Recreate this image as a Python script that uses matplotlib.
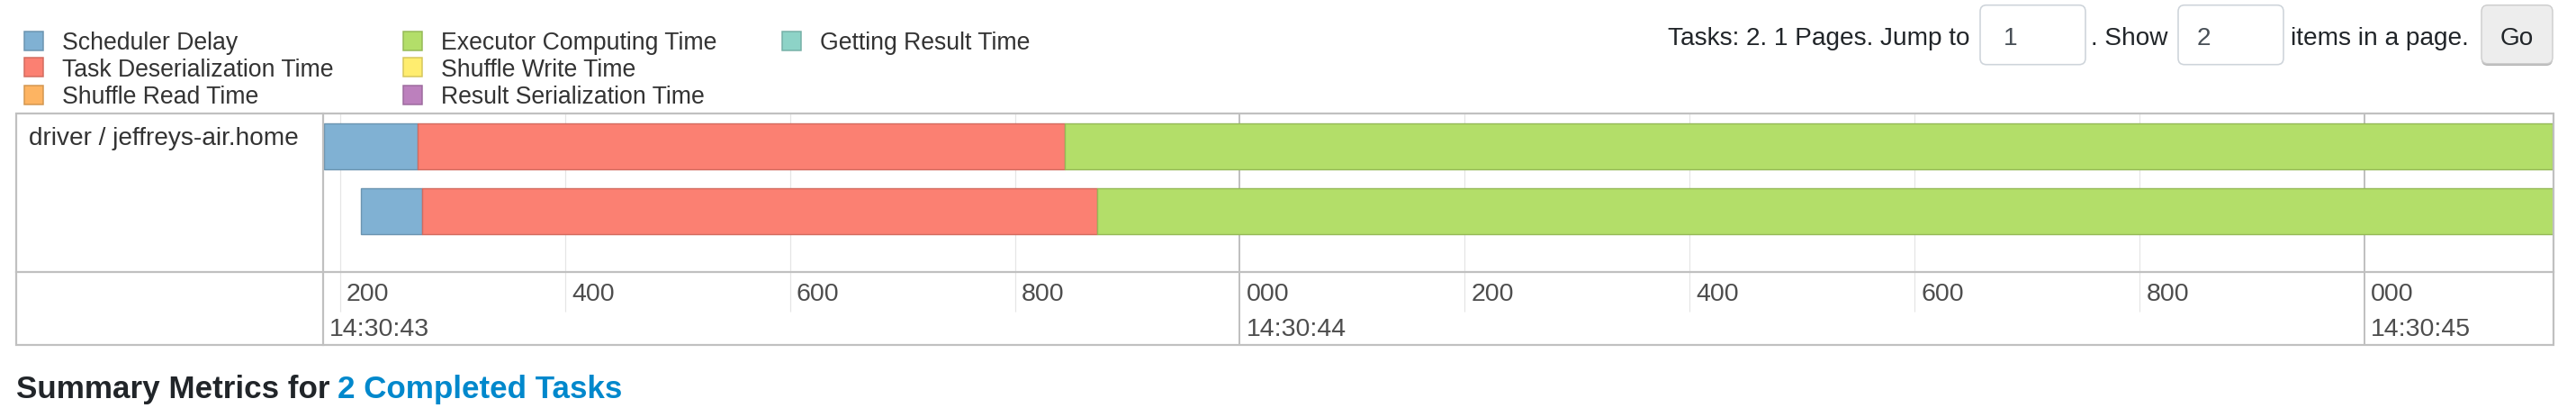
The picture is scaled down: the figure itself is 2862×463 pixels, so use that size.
import matplotlib
matplotlib.use('Agg')
import matplotlib.pyplot as plt
from matplotlib.patches import Rectangle, FancyBboxPatch

plt.rcParams['font.family'] = ['Liberation Sans', 'DejaVu Sans']

W, H = 2862, 464  # mida de la imatge en pixels

# Dades: temps en ms despres de 14:30:43.000
task_rows = [0, 1]
launch_ms = [186, 219]
scheduler_delay = [83, 54]
deserialization = [575, 600]
shuffle_read = [0, 0]
executor_computing = [1323, 1295]
shuffle_write = [0, 0]
result_serialization = [0, 0]
getting_result = [0, 0]

window_ms = [185, 2168]
grid_ms = [200, 400, 600, 800, 1000, 1200, 1400, 1600, 1800, 2000]
major_ms = [1000, 2000]
date_labels = ['14:30:43', '14:30:44', '14:30:45']
date_pos_ms = [185, 1000, 2000]
executor_label = 'driver / jeffreys-air.home'

legend_names = ['Scheduler Delay', 'Task Deserialization Time', 'Shuffle Read Time',
                'Executor Computing Time', 'Shuffle Write Time', 'Result Serialization Time',
                'Getting Result Time']
legend_fill = ['#80B1D3', '#FB8072', '#FDB462', '#B3DE69', '#FFED6F', '#BC80BD', '#8DD3C7']
legend_edge = ['#6B94B0', '#D26B5F', '#D3964F', '#95B957', '#D5C65C', '#9D6B9E', '#75B0A6']

BORDER = '#c0c0c0'
PX = 0.72  # 1 pixel en punts (dpi 100)
HTML_FS = 20.2  # mida del text de la pagina
LEG_FS = 19.2  # mida del text de la llegenda
AXIS_FS = 20.5  # mida de les etiquetes de temps


def frac(x0, y0, x1, y1):  # Rectangle en pixels -> fraccio de figura
    return [x0 / W, 1 - y1 / H, (x1 - x0) / W, (y1 - y0) / H]


fig = plt.figure(figsize=(W / 100, H / 100), dpi=100)
fig.patch.set_facecolor('white')

# Eix principal amb les barres de les tasques
ax = fig.add_axes(frac(359, 127.3, 2837, 302.7))
ax.set_xlim(window_ms)
ax.set_ylim(1.93, -0.51)
ax.axis('off')
ax.vlines([t for t in grid_ms if t not in major_ms], -1, 3, color='#e5e5e5', lw=1.2 * PX, zorder=0)
ax.vlines(major_ms, -1, 3, color=BORDER, lw=2 * PX, zorder=0)

phases = [scheduler_delay, deserialization, shuffle_read, executor_computing,
          shuffle_write, result_serialization, getting_result]
left = list(launch_ms)
for k, phase in enumerate(phases):
    for r in range(len(task_rows)):
        if phase[r] > 0:  # Nomes es dibuixen les fases amb durada
            ax.barh(task_rows[r], phase[r], left=left[r], height=0.71,
                    color=legend_fill[k], edgecolor=legend_edge[k], linewidth=1.4 * PX, zorder=2)
        left[r] += phase[r]

# Eix inferior amb les etiquetes de temps
ax2 = fig.add_axes(frac(359, 302.7, 2837, 384), sharex=ax)
ax2.set_ylim(1, 0)
ax2.axis('off')
ax2.vlines([t for t in grid_ms if t not in major_ms], 0, 0.545, color='#e5e5e5', lw=1.2 * PX)
ax2.vlines(major_ms, 0, 1, color=BORDER, lw=2 * PX)
for t in grid_ms:
    ax2.annotate('%03d' % (t % 1000), (t, 0.385), xytext=(5.2, 0), textcoords='offset points',
                 fontsize=AXIS_FS, color='#4d4d4d', va='baseline', ha='left')
for t, lab in zip(date_pos_ms, date_labels):
    ax2.annotate(lab, (t, 0.865), xytext=(5.2, 0), textcoords='offset points',
                 fontsize=AXIS_FS, color='#4d4d4d', va='baseline', ha='left')

# Capa de fons en pixels: taula, llegenda i controls
bg = fig.add_axes([0, 0, 1, 1], zorder=5)
bg.set_xlim(0, W)
bg.set_ylim(H, 0)
bg.axis('off')
bg.patch.set_alpha(0)

bg.add_patch(Rectangle((18, 127.3), 2837 - 18, 384 - 127.3, fill=False, ec=BORDER, lw=2.2 * PX))
bg.plot([359, 359], [127.3, 384], color=BORDER, lw=2.2 * PX)
bg.plot([18, 2837], [302.7, 302.7], color=BORDER, lw=2.2 * PX)
bg.text(31.7, 160.7, executor_label, fontsize=HTML_FS, color='#333333', va='baseline')

# Llegenda (3 files per columna)
col_x = [27, 448, 869]
row_bottom = [56.7, 86.3, 116.7]
for i, name in enumerate(legend_names):
    x = col_x[i // 3]
    yb = row_bottom[i % 3]
    bg.add_patch(Rectangle((x, yb - 21), 21, 21, fc=legend_fill[i], ec=legend_edge[i], lw=1.5 * PX))
    bg.text(x + 42, yb - 1.5, name, fontsize=LEG_FS, color='#333333', va='baseline')

# Controls de paginacio
base = 49.5
bg.text(1852.7, base, 'Tasks: 2. 1 Pages. Jump to', fontsize=HTML_FS, color='#212529', va='baseline')
bg.add_patch(FancyBboxPatch((2200, 6.7), 117, 66, boxstyle='round,pad=0,rounding_size=7',
                            fc='white', ec='#ced4da', lw=1.6 * PX))
bg.text(2226, base, '1', fontsize=HTML_FS, color='#495057', va='baseline')
bg.text(2323, base, '. Show', fontsize=HTML_FS, color='#212529', va='baseline')
bg.add_patch(FancyBboxPatch((2420, 6.7), 117, 66, boxstyle='round,pad=0,rounding_size=7',
                            fc='white', ec='#ced4da', lw=1.6 * PX))
bg.text(2441, base, '2', fontsize=HTML_FS, color='#495057', va='baseline')
bg.text(2545, base, 'items in a page.', fontsize=HTML_FS, color='#212529', va='baseline')
bg.add_patch(FancyBboxPatch((2757, 8), 79, 66, boxstyle='round,pad=0,rounding_size=7',
                            fc='#b9b9b9', ec='none'))
bg.add_patch(FancyBboxPatch((2757, 6.7), 79, 65, boxstyle='round,pad=0,rounding_size=7',
                            fc='#ededed', ec='#cccccc', lw=1.4 * PX))
bg.text(2796.5, base, 'Go', fontsize=HTML_FS, color='#212529', va='baseline', ha='center')

# Titol de la seccio seguent
title = bg.text(18, 441.7, 'Summary Metrics for', fontsize=25.2, weight='bold', color='#212529', va='baseline')
bg.annotate('2 Completed Tasks', xy=(1, 0), xycoords=title, xytext=(6, 0), textcoords='offset points',
            fontsize=25.2, weight='bold', color='#0088cc', va='bottom')

fig.savefig('out.png', dpi=100, facecolor='white')
